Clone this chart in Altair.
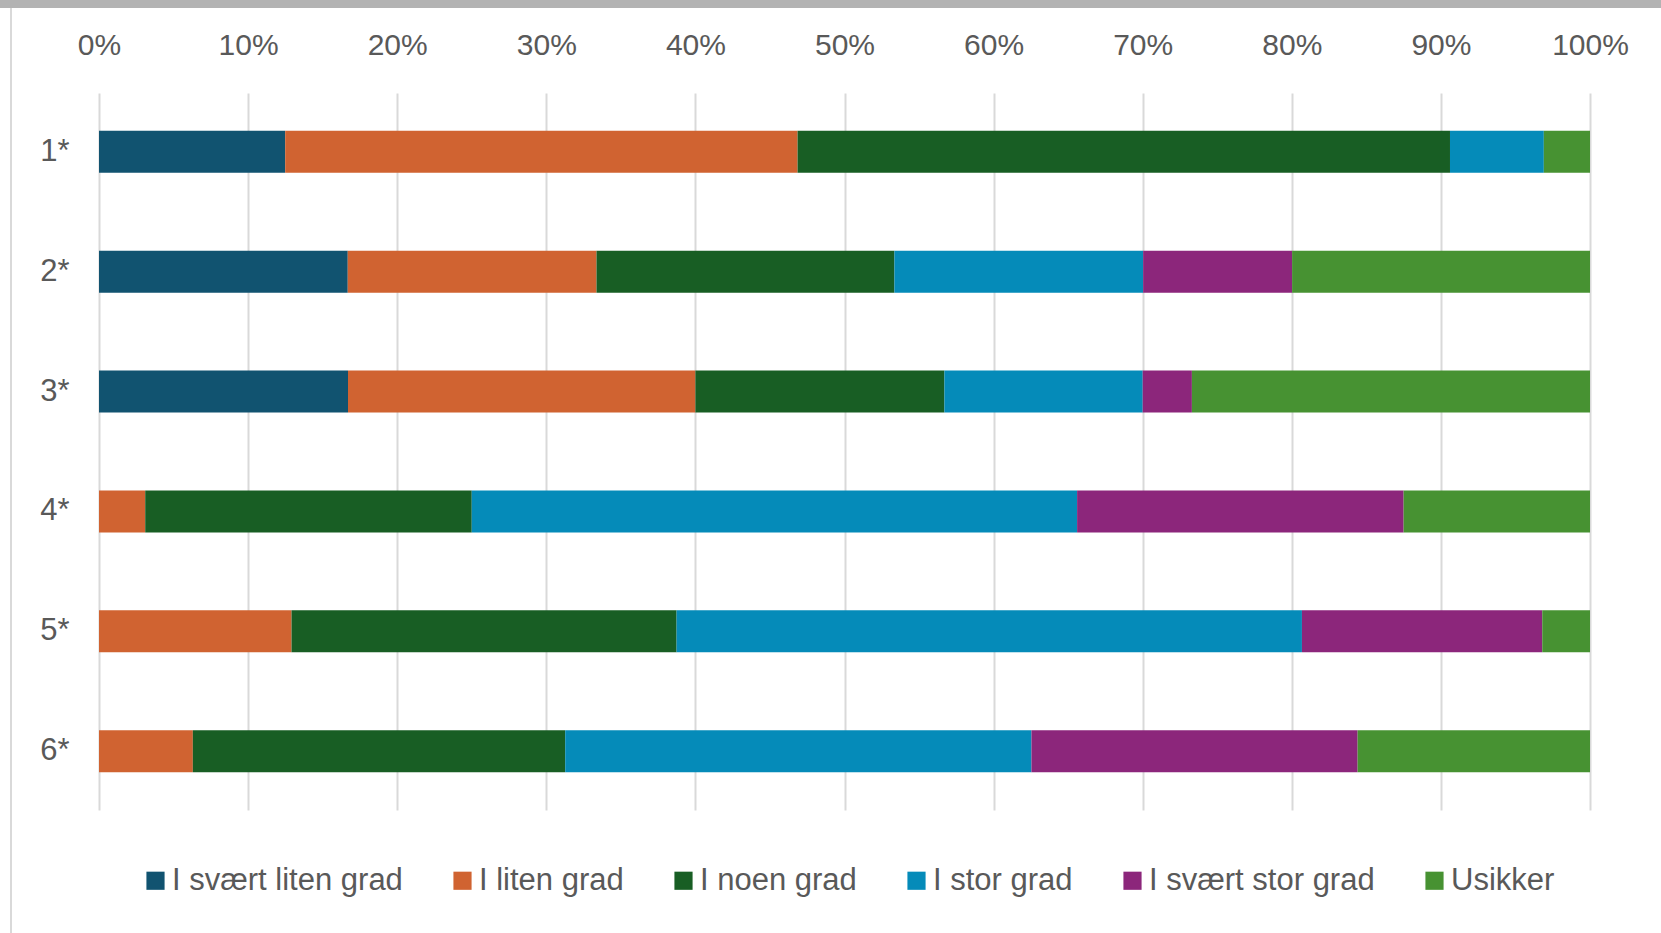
import altair as alt
import pandas as pd

categories = ["1*", "2*", "3*", "4*", "5*", "6*"]
series = ["I svært liten grad", "I liten grad", "I noen grad", "I stor grad", "I svært stor grad", "Usikker"]
colors = ["#115370", "#D06331", "#185E24", "#058BB9", "#8C267B", "#479232"]

s_svaert_liten = [12.5, 16.7, 16.7, 0.0, 0.0, 0.0]
s_liten = [34.4, 16.7, 23.3, 3.1, 12.9, 6.3]
s_noen = [43.8, 20.0, 16.7, 21.9, 25.8, 25.0]
s_stor = [6.3, 16.7, 13.3, 40.6, 41.9, 31.3]
s_svaert_stor = [0.0, 10.0, 3.3, 21.9, 16.1, 21.9]
s_usikker = [3.1, 20.0, 26.7, 12.5, 3.2, 15.6]

all_series = [s_svaert_liten, s_liten, s_noen, s_stor, s_svaert_stor, s_usikker]
rows = []
for si, (name, vals) in enumerate(zip(series, all_series)):
    for cat, v in zip(categories, vals):
        rows.append({"kategori": cat, "serie": name, "verdi": v, "rekkefolge": si})
df = pd.DataFrame(rows)

W, H = 1491, 717
FONT = "Liberation Sans"
GREY = "#595959"

bars = alt.Chart(df).mark_bar().encode(
    x=alt.X("verdi:Q", stack="normalize",
            scale=alt.Scale(domain=[0, 1], nice=False),
            axis=alt.Axis(orient="top", format=".0%", values=[i / 10 for i in range(11)],
                          title=None, domain=False, ticks=False, grid=True,
                          gridColor="#d9d9d9", gridWidth=2,
                          labelFont=FONT, labelFontSize=30, labelColor=GREY,
                          labelPadding=33, labelFlush=False)),
    y=alt.Y("kategori:N", sort=categories,
            scale=alt.Scale(paddingInner=0.65, paddingOuter=0.315),
            axis=alt.Axis(title=None, domain=False, ticks=False,
                          labelFont=FONT, labelFontSize=31, labelColor=GREY,
                          labelPadding=30)),
    color=alt.Color("serie:N", sort=series,
                    scale=alt.Scale(domain=series, range=colors),
                    legend=alt.Legend(title=None, orient="none", direction="horizontal",
                                      columns=6, legendX=41, legendY=772,
                                      symbolType="square", symbolSize=330,
                                      symbolStrokeWidth=0, labelOffset=1,
                                      columnPadding=44, padding=0,
                                      labelFont=FONT, labelFontSize=31, labelColor=GREY,
                                      labelLimit=400)),
    order=alt.Order("rekkefolge:Q"),
)

frame_df = pd.DataFrame({"k": [0]})
top_bar = alt.Chart(frame_df).mark_rule(color="#b3b3b3", strokeWidth=8).encode(
    x=alt.value(-99), x2=alt.value(1562), y=alt.value(-89)
)
left_line = alt.Chart(frame_df).mark_rule(color="#d9d9d9", strokeWidth=2).encode(
    x=alt.value(-88), y=alt.value(-85), y2=alt.value(840)
)

chart = alt.layer(bars, top_bar, left_line).properties(
    width=W, height=H,
    autosize=alt.AutoSizeParams(type="none"),
    padding={"left": 99, "top": 93, "right": 71, "bottom": 123},
    background="white",
).configure_view(stroke=None)

chart.save("out.html", embed_options={"renderer": "svg", "actions": False})
